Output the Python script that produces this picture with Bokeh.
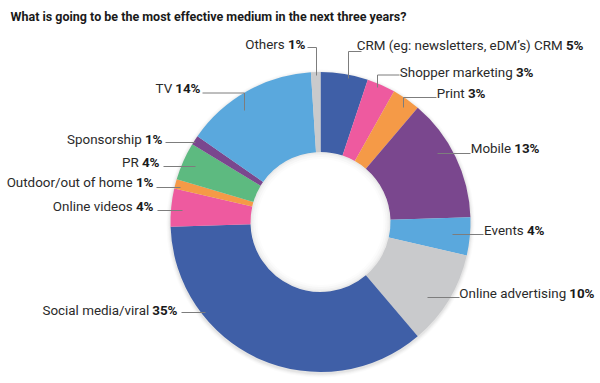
import numpy as np
from bokeh.plotting import figure
from bokeh.models import Range1d, ColumnDataSource
from bokeh.embed import file_html
from bokeh.resources import INLINE
from bokeh.core.properties import value

# ---------------- data (clockwise from 12 o'clock) ----------------
categories = [
    "CRM (eg: newsletters, eDM\u2019s) CRM",
    "Shopper marketing",
    "Print",
    "Mobile",
    "Events",
    "Online advertising",
    "Social media/viral",
    "Online videos",
    "Outdoor/out of home",
    "PR",
    "Sponsorship",
    "TV",
    "Others",
]
shares = [5, 3, 3, 13, 4, 10, 35, 4, 1, 4, 1, 14, 1]
title = "What is going to be the most effective medium in the next three years?"

# ---------------- styles ----------------
DBLUE, PINK, ORANGE, PURPLE = "#3f5fa7", "#ee5a9f", "#f59a47", "#7a478e"
LBLUE, GREY, GREEN = "#5aa8dd", "#c9cacc", "#5dba80"
colors = [DBLUE, PINK, ORANGE, PURPLE, LBLUE, GREY, DBLUE, PINK, ORANGE,
          GREEN, PURPLE, LBLUE, GREY]

# label layout in image pixels: (text end x, text centre y, leader xs, leader ys)
layout = [
    (583, 45, [361, 348, 348], [51, 51, 78]),
    (533, 72, [399, 377, 377], [74.5, 74.5, 87]),
    (485, 93, [436, 403, 403], [97, 97, 107]),
    (539, 148, [470, 437], [153, 153]),
    (544, 230, [483, 452], [234, 234]),
    (594, 293, [459, 427], [297, 297]),
    (177, 310, [181, 205], [312, 312]),
    (153, 206, [157, 182], [210, 210]),
    (153, 182, [156, 180], [187, 187]),
    (159, 162, [163, 195], [166, 166]),
    (162, 139, [165, 195], [142, 142]),
    (200, 88, [202, 244, 244], [92.5, 92.5, 110]),
    (305, 44, [307, 316, 316], [47, 47, 75]),
]

CX, CY = 320, 221.5     # donut centre (image px)
R_OUT, R_IN = 150, 70
FONT = "Roboto"
FSZ = 13.4
FS = f"{FSZ}px"

# ---------------- figure (image coords: x = px, y = -py) ----------------
W, H = 600, 383
p = figure(width=W, height=H, x_range=Range1d(0, W), y_range=Range1d(-H, 0),
           output_backend="svg", toolbar_location=None, min_border=0,
           x_axis_location=None, y_axis_location=None)
p.grid.visible = False
p.outline_line_color = None
p.background_fill_color = "white"
p.border_fill_color = "white"

# soft outer shadow
for k, a in [(4, 0.03), (3, 0.04), (2, 0.06), (1, 0.08)]:
    p.circle(x=CX, y=-(CY + 1.5), radius=R_OUT + k, fill_color="#777777",
             fill_alpha=a, line_color=None)
# keep the hole white
p.circle(x=CX, y=-CY, radius=R_IN + 2, fill_color="white", line_color=None)

vals = np.array(shares, dtype=float)
frac = vals / vals.sum()
cum = np.concatenate([[0.0], np.cumsum(frac)])
start = np.pi / 2 - 2 * np.pi * cum[:-1]
end = np.pi / 2 - 2 * np.pi * cum[1:]

src = ColumnDataSource(dict(start=start, end=end, color=colors))
p.annular_wedge(x=CX, y=-CY, inner_radius=R_IN, outer_radius=R_OUT,
                start_angle="start", end_angle="end", direction="clock",
                fill_color="color", line_color=None, source=src)

# inner shadow in the hole (two half rings per step)
for k, a in [(7, 0.025), (5, 0.035), (3, 0.045), (1.5, 0.06)]:
    p.annular_wedge(x=[CX, CX], y=[-CY, -CY], inner_radius=R_IN - k,
                    outer_radius=R_IN, start_angle=[0, np.pi],
                    end_angle=[np.pi, 2 * np.pi], fill_color="#777777",
                    fill_alpha=a, line_color=None)

# leaders
p.multi_line(xs=[l[2] for l in layout], ys=[[-v for v in l[3]] for l in layout],
             line_color="#7d7d7d", line_width=1)

# labels: name regular, percentage bold (both right-aligned)
pct_text = [f"{s}%" for s in shares]
pct_w = [(len(t) - 1) * 0.5615 * FSZ + 0.731 * FSZ for t in pct_text]
space = 0.26 * FSZ
p.text(x=[l[0] - w - space for l, w in zip(layout, pct_w)],
       y=[-l[1] for l in layout], text=categories,
       text_font=value(FONT), text_font_size=FS, text_color="#2a2a2a",
       text_align="right", text_baseline="middle")
p.text(x=[l[0] for l in layout], y=[-l[1] for l in layout], text=pct_text,
       text_font=value(FONT), text_font_size=FS, text_font_style="bold",
       text_color="#1a1a1a", text_align="right", text_baseline="middle")

# title
p.text(x=[10], y=[-15.5], text=[title], text_font=value("Roboto"),
       text_font_size="12.5px", text_font_style="bold", text_color="#1a1a1a",
       text_align="left", text_baseline="alphabetic")

open("out.html", "w").write(file_html(p, INLINE))
